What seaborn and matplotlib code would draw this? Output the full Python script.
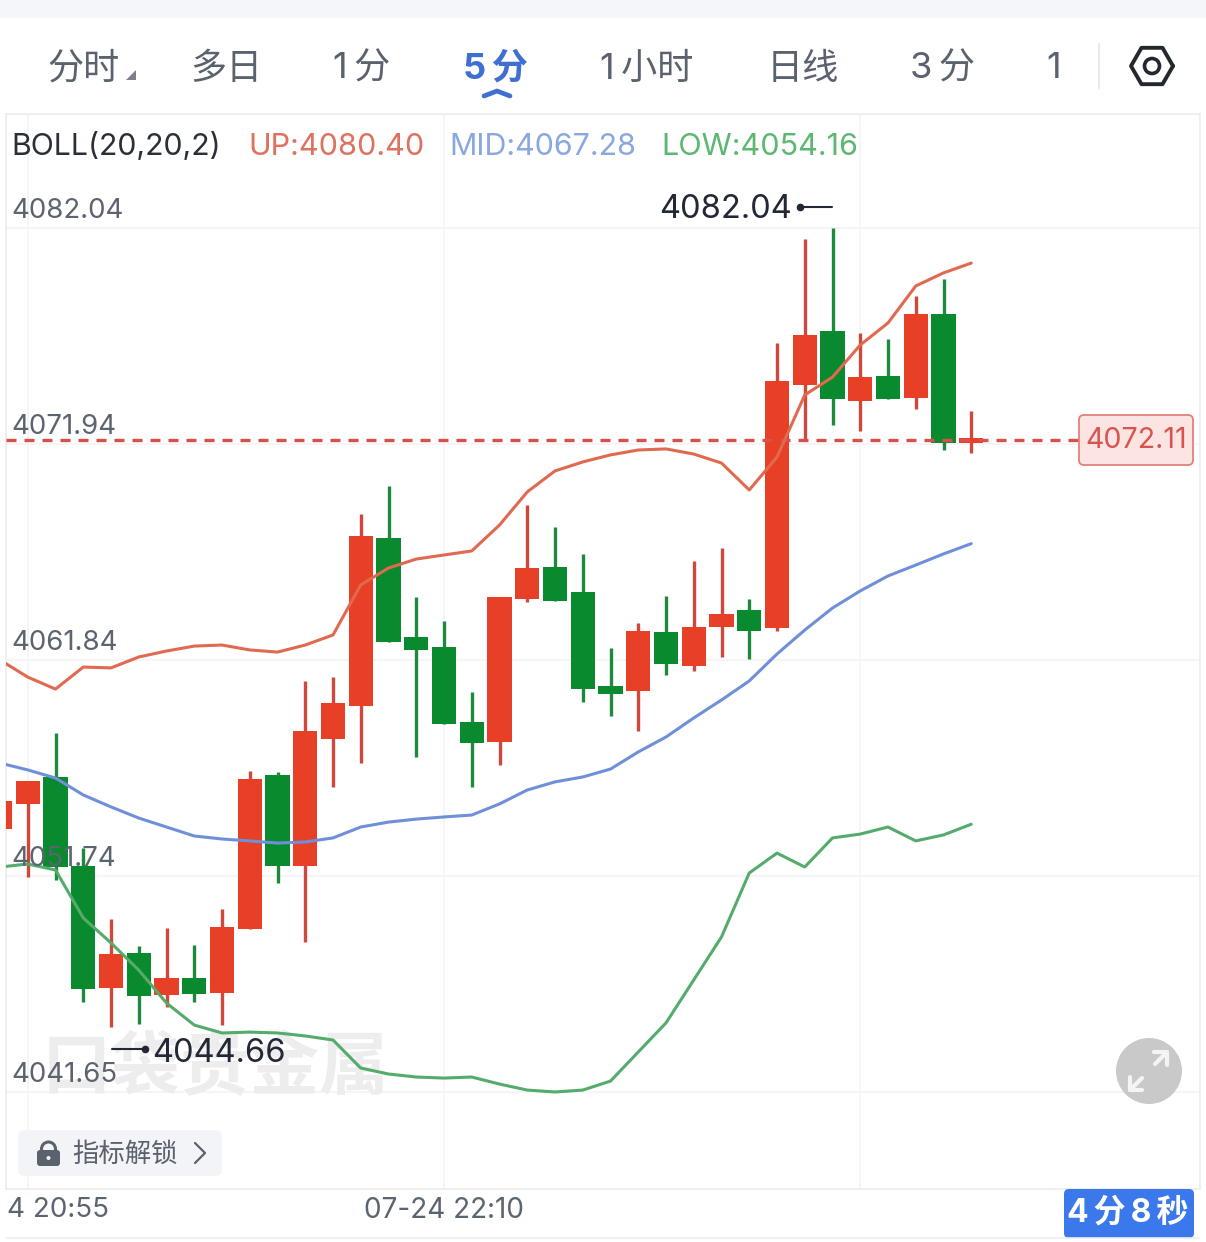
import numpy as np
import pandas as pd
import matplotlib.pyplot as plt
import seaborn as sns
from matplotlib.patches import Circle, FancyBboxPatch, Polygon, Rectangle

sns.set_style("white")
plt.rcParams['font.family'] = ['Inter', 'Noto Sans CJK SC', 'DejaVu Sans']

W, H = 1206, 1242

# candles, left to right, 5 minute bars
opens = [4053.94, 4055.11, 4056.37, 4052.21, 4046.50, 4048.14, 4046.17, 4046.97, 4046.27,
         4049.26, 4056.46, 4052.21, 4058.15, 4059.69, 4067.54, 4062.92, 4062.45, 4058.94,
         4058.01, 4064.69, 4066.19, 4065.02, 4060.62, 4060.39, 4063.15, 4061.56, 4063.38,
         4064.18, 4063.34, 4074.70, 4077.22, 4073.95, 4075.12, 4074.09, 4078.02, 4071.99]
closes = [4055.25, 4056.18, 4052.16, 4046.46, 4048.09, 4046.13, 4046.97, 4046.22, 4049.35,
          4056.28, 4052.21, 4058.52, 4059.83, 4067.64, 4062.68, 4062.31, 4058.85, 4057.96,
          4064.79, 4066.14, 4064.60, 4060.48, 4060.25, 4063.20, 4061.65, 4063.38, 4063.99,
          4063.20, 4074.89, 4077.04, 4074.04, 4075.07, 4074.04, 4078.02, 4071.99, 4072.22]
highs = [4055.25, 4056.18, 4058.43, 4053.05, 4049.73, 4048.47, 4049.31, 4048.51, 4050.20,
         4056.65, 4056.60, 4060.86, 4061.04, 4068.67, 4069.98, 4064.79, 4063.66, 4060.34,
         4064.79, 4069.09, 4068.06, 4066.80, 4062.40, 4063.57, 4064.83, 4066.47, 4067.08,
         4064.69, 4076.66, 4081.53, 4082.04, 4077.13, 4076.85, 4078.86, 4079.66, 4073.48]
lows = [4053.94, 4051.69, 4051.55, 4045.85, 4044.66, 4044.82, 4045.61, 4045.85, 4044.77,
        4049.26, 4051.41, 4048.65, 4055.90, 4057.02, 4062.68, 4057.30, 4058.85, 4055.90,
        4056.93, 4064.55, 4064.60, 4059.88, 4059.22, 4058.52, 4061.14, 4061.33, 4061.98,
        4061.89, 4063.20, 4072.13, 4072.83, 4072.55, 4074.04, 4073.58, 4071.66, 4071.52]

# bollinger bands, one value per candle
boll_up = [4061.84, 4061.04, 4060.48, 4061.51, 4061.47, 4061.98, 4062.26, 4062.49, 4062.54,
           4062.31, 4062.21, 4062.54, 4063.01, 4065.35, 4066.14, 4066.56, 4066.75, 4066.94,
           4068.15, 4069.70, 4070.68, 4071.10, 4071.43, 4071.66, 4071.71, 4071.47, 4071.05,
           4069.79, 4071.33, 4074.23, 4075.07, 4076.57, 4077.60, 4079.33, 4079.94, 4080.40]
boll_mid = [4057.02, 4056.70, 4056.32, 4055.53, 4054.97, 4054.45, 4054.03, 4053.61, 4053.47,
            4053.38, 4053.28, 4053.33, 4053.52, 4054.03, 4054.26, 4054.40, 4054.50, 4054.59,
            4055.11, 4055.76, 4056.14, 4056.37, 4056.74, 4057.54, 4058.24, 4059.13, 4059.97,
            4060.86, 4062.12, 4063.24, 4064.27, 4065.07, 4065.77, 4066.28, 4066.80, 4067.28]
boll_low = [4052.16, 4052.30, 4052.02, 4049.78, 4048.61, 4047.34, 4045.80, 4044.77, 4044.40,
            4044.44, 4044.40, 4044.26, 4044.07, 4042.76, 4042.48, 4042.34, 4042.29, 4042.34,
            4042.01, 4041.73, 4041.64, 4041.73, 4042.15, 4043.51, 4044.87, 4046.88, 4048.89,
            4051.88, 4052.81, 4052.16, 4053.52, 4053.70, 4054.03, 4053.38, 4053.66, 4054.16]

price_ticks = [4082.04, 4071.94, 4061.84, 4051.74, 4041.65]
price_labels = ["4082.04", "4071.94", "4061.84", "4051.74", "4041.65"]
time_ticks = [1, 16, 31]
last_price = 4072.11
tabs = ["分时", "多日", "1\u2009分", "5\u2009分", "1\u2009小时", "日线", "3\u2009分", "1"]

RED, GREEN = "#e83f27", "#0a8a2e"
RED_W, GREEN_W = "#d0473b", "#1c8a3c"
LINE_UP, LINE_MID, LINE_LOW = "#e0694f", "#6f8fd8", "#55ab6b"
GRID = "#f3f4f6"

df = pd.DataFrame({"idx": np.arange(len(opens)), "open": opens, "close": closes,
                   "high": highs, "low": lows, "up": boll_up, "mid": boll_mid, "dn": boll_low})
df["bottom"] = df[["open", "close"]].min(axis=1)
df["height"] = (df["open"] - df["close"]).abs()
rising = df[df["close"] >= df["open"]]
falling = df[df["close"] < df["open"]]

fig = plt.figure(figsize=(W / 100, H / 100), dpi=100, facecolor="white")

# chart frame runs 6..1200 by 114..1189 px
ax = fig.add_axes([6 / W, 1 - 1189 / H, 1194 / W, 1075 / H], zorder=1)
# page layer, in pixels, for the app chrome around the chart
ui = fig.add_axes([0, 0, 1, 1], zorder=2)
ui.set_xlim(0, W)
ui.set_ylim(H, 0)
ui.axis("off")
ui.patch.set_alpha(0)

sns.barplot(data=rising, x="idx", y="height", bottom=rising["bottom"], native_scale=True,
            width=0.88, color=RED, saturation=1, linewidth=0, errorbar=None, ax=ax, zorder=3)
sns.barplot(data=falling, x="idx", y="height", bottom=falling["bottom"], native_scale=True,
            width=0.88, color=GREEN, saturation=1, linewidth=0, errorbar=None, ax=ax, zorder=3)
ax.vlines(rising["idx"], rising["low"], rising["high"], color=RED_W, lw=2.4, zorder=2)
ax.vlines(falling["idx"], falling["low"], falling["high"], color=GREEN_W, lw=2.4, zorder=2)

ax.axhline(last_price, xmax=(1080 - 6) / 1194, color="#d9504a", lw=2.4, ls=(0, (3, 2.4)), zorder=4)

sns.lineplot(data=df, x="idx", y="up", color=LINE_UP, lw=2.2, errorbar=None, ax=ax, zorder=5)
sns.lineplot(data=df, x="idx", y="mid", color=LINE_MID, lw=2.2, errorbar=None, ax=ax, zorder=5)
sns.lineplot(data=df, x="idx", y="dn", color=LINE_LOW, lw=2.2, errorbar=None, ax=ax, zorder=5)

ax.set_xlim(6 / 27.75, 1200 / 27.75)
ax.set_ylim(4082.04 - (1189 - 228) * 0.04676, 4082.04 + (228 - 114) * 0.04676)
ax.set_xlabel("")
ax.set_ylabel("")
ax.set_xticks(time_ticks, labels=[])
ax.set_yticks(price_ticks, labels=[])
ax.tick_params(length=0)
ax.grid(True, color=GRID, lw=1.2, zorder=0)
ax.set_axisbelow(True)
for s in ax.spines.values():
    s.set_color("#ebecee")
    s.set_linewidth(1.2)

for p, lab in zip(price_ticks, price_labels):
    ax.annotate(lab, xy=(0, p), xycoords=ax.get_yaxis_transform(), xytext=(3.6, 12.2),
                textcoords="offset points", va="center", ha="left", fontsize=19.9,
                color="#5c6470", zorder=8)

# watermark sits under the candles
ax.text(215, 1070, "口袋贵金属", transform=ui.transData, fontsize=50, fontweight="bold",
        color="#ededed", ha="center", va="center", zorder=1)


def txt(x, y, s, size=20, color="#5c6470", ha="left", **kw):
    # va center lands a little high with these fonts
    ui.text(x, y + 3, s, fontsize=size, color=color, ha=ha, va="center", **kw)


# top band and interval tabs
ui.add_patch(Rectangle((0, 0), W, 18, color="#f5f6fa", lw=0))
tab_x = [84, 226, 362, 495, 647, 803, 942, 1054]
for s, x in zip(tabs, tab_x):
    if s.startswith("5"):
        txt(x, 66, s, size=26, color="#3f6fd0", ha="center", fontweight="bold")
    else:
        txt(x, 66, s, size=26, color="#5a626e", ha="center")
ui.add_patch(Polygon([[126, 80], [136, 80], [136, 70]], color="#7b8088", lw=0))
ui.plot([484, 497, 510], [96, 91, 96], color="#3f6fd0", lw=3.4, solid_capstyle="round")
ui.plot([1099, 1099], [44, 88], color="#e8e9eb", lw=1.5)
ang = np.deg2rad(np.arange(0, 361, 60))
ui.plot(1152 + 21 * np.cos(ang), 66 + 21 * np.sin(ang), color="#23272e", lw=2.8)
ui.add_patch(Circle((1152, 66), 7.5, fill=False, ec="#23272e", lw=2.6))

# indicator row
txt(11, 144, "BOLL(20,20,2)", size=21.8, color="#2a2f38")
txt(248, 144, "UP:4080.40", size=22, color="#e0705f")
txt(449, 144, "MID:4067.28", size=21.9, color="#8aa8e0")
txt(661, 144, "LOW:4054.16", size=22, color="#5cb870")

# high and low markers
txt(659, 207, "4082.04", size=23.5, color="#222835")
ui.plot([800, 832], [207, 207], color="#222835", lw=1.5)
ui.plot([800], [207], "o", color="#222835", ms=4.5)
txt(152, 1050, "4044.66", size=23.5, color="#222835")
ui.plot([112, 145], [1049, 1049], color="#222835", lw=1.5)
ui.plot([145], [1049], "o", color="#222835", ms=4.5)

# last price tag
ui.add_patch(FancyBboxPatch((1082, 418), 108, 44, boxstyle="round,pad=3,rounding_size=5",
                            fc="#fbe4e2", ec="#e2807a", lw=1.3))
txt(1136, 438, "4072.11", size=20.6, color="#d9534f", ha="center")

# expand button
ui.add_patch(Circle((1149, 1071), 33, color="#c9c9c9", lw=0))
ui.plot([1130, 1142], [1090, 1078], color="#f4f4f4", lw=3)
ui.plot([1130, 1130, 1142], [1077, 1090, 1090], color="#f4f4f4", lw=3)
ui.plot([1155, 1167], [1064, 1052], color="#f4f4f4", lw=3)
ui.plot([1154, 1167, 1167], [1052, 1052, 1065], color="#f4f4f4", lw=3)

# locked indicators button
ui.add_patch(FancyBboxPatch((22, 1134), 196, 38, boxstyle="round,pad=4,rounding_size=7",
                            fc="#f3f4f7", ec="none"))
ui.add_patch(FancyBboxPatch((38, 1151), 21, 14, boxstyle="round,pad=1,rounding_size=3",
                            fc="#5a626e", ec="none"))
ui.add_patch(Circle((48.5, 1149), 7, fill=False, ec="#5a626e", lw=2.2))
ui.add_patch(Circle((48.5, 1158), 2, color="#f3f4f7", lw=0))
txt(72, 1152, "指标解锁", size=19, color="#5a626e")
ui.plot([195, 205, 195], [1143, 1153, 1163], color="#5a626e", lw=1.6)

# time axis and countdown badge
txt(7, 1207, "4 20:55", size=20)
txt(444, 1207, "07-24 22:10", size=20.1, ha="center")
ui.plot([6, 1200], [1238, 1238], color="#eeeff1", lw=1.2)
ui.add_patch(FancyBboxPatch((1067, 1192), 124, 43, boxstyle="round,pad=3,rounding_size=5",
                            fc="#3b78ec", ec="none"))
txt(1128, 1210, "4\u2009分\u20098\u2009秒", size=23, color="white", ha="center", fontweight="bold")

fig.savefig("out.png", dpi=100)
